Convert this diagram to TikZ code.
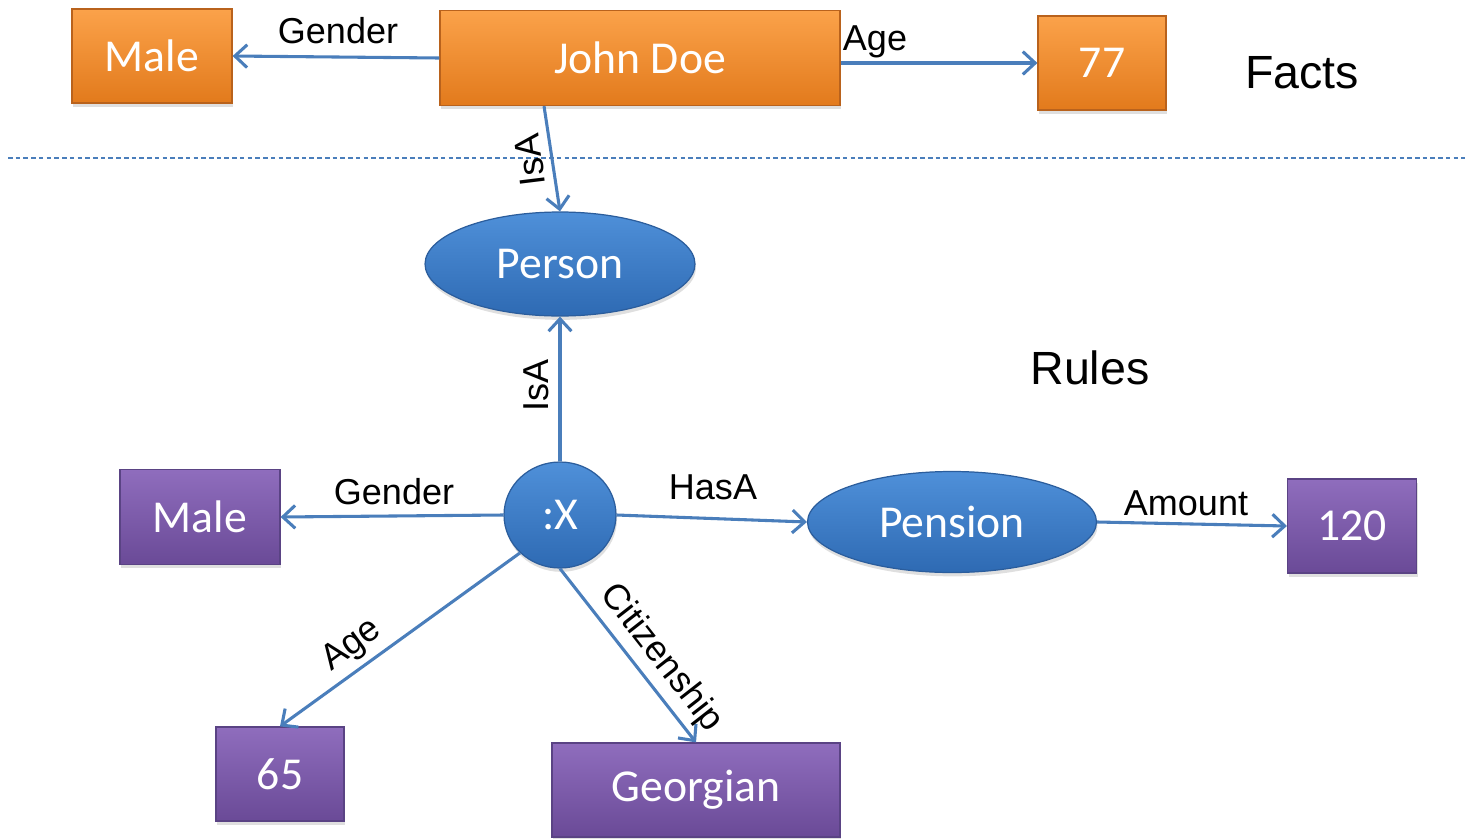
\documentclass[tikz,border=0pt]{standalone}
\usepackage{fontspec}
\setmainfont{Liberation Sans}
\newfontfamily\boxfont{Carlito}
\usetikzlibrary{arrows.meta,shadows,shapes.geometric}

\definecolor{orgtop}{HTML}{FBA24A}
\definecolor{orgbot}{HTML}{E27A1C}
\definecolor{orgedge}{HTML}{B9621C}
\definecolor{purtop}{HTML}{8F6DBD}
\definecolor{purbot}{HTML}{6A4A97}
\definecolor{puredge}{HTML}{5A4384}
\definecolor{blutop}{HTML}{4F90D9}
\definecolor{blubot}{HTML}{2E6AB3}
\definecolor{bluedge}{HTML}{2B5D9C}
\definecolor{linkcol}{HTML}{4A7EBB}

\tikzset{
  softshadow/.style={drop shadow={opacity=0.25, shadow xshift=0.6pt, shadow yshift=-2.2pt}},
  box/.style={rectangle, inner sep=0pt, text=white, softshadow,
    font=\boxfont\fontsize{26}{30}\selectfont, line width=0.7pt},
  factbox/.style={box, top color=orgtop, bottom color=orgbot, draw=orgedge},
  rulebox/.style={box, top color=purtop, bottom color=purbot, draw=puredge},
  concept/.style={ellipse, inner sep=0pt, text=white, softshadow,
    top color=blutop, bottom color=blubot, draw=bluedge, line width=0.7pt,
    font=\boxfont\fontsize{26}{30}\selectfont},
  link/.style={draw=linkcol, line width=1.75pt,
    -{Straight Barb[length=7pt, width=13pt, line width=1.75pt]}},
  lbl/.style={font=\fontsize{20.5}{24}\selectfont, inner sep=0pt},
  heading/.style={font=\fontsize{26.5}{30}\selectfont, inner sep=0pt},
}

\begin{document}
\begin{tikzpicture}[x=0.02cm, y=0.02cm]
  \useasboundingbox (0,0) rectangle (1465,-839);

  % facts
  \node[factbox, minimum width=3.2cm, minimum height=1.88cm] (male1) at (152,-56) {Male};
  \node[factbox, minimum width=8cm, minimum height=1.9cm] (jd) at (640,-58) {John Doe};
  \node[factbox, minimum width=2.56cm, minimum height=1.88cm] (v77) at (1102,-63) {77};
  \node[heading] (facts) at (1302,-73) {Facts};

  % separator
  \coordinate (sepL) at (8,-158);
  \coordinate (sepR) at (1465,-158);
  \draw[linkcol, line width=0.8pt, dash pattern=on 2.6pt off 1.8pt] (sepL) -- (sepR);

  % rules
  \node[concept, minimum width=5.4cm, minimum height=2.08cm] (person) at (560,-264) {Person};
  \node[heading] (rules) at (1090,-368) {Rules};
  \node[concept, minimum width=2.24cm, minimum height=2.12cm] (x) at (560,-515) {:X};
  \node[rulebox, minimum width=3.2cm, minimum height=1.9cm] (male2) at (200,-517) {Male};
  \node[concept, minimum width=5.78cm, minimum height=2.02cm] (pension) at (952,-522) {Pension};
  \node[rulebox, minimum width=2.58cm, minimum height=1.88cm] (v120) at (1352,-526) {120};
  \node[rulebox, minimum width=2.56cm, minimum height=1.88cm] (v65) at (280,-774) {65};
  \node[rulebox, minimum width=5.76cm, minimum height=1.88cm] (geo) at (696,-790) {Georgian};

  % fact links
  \draw[link] (jd.west) -- (male1.east);
  \draw[link] (jd.east |- v77.west) -- (v77.west);
  \draw[link] ([xshift=-1.92cm]jd.south) -- (person.north);
  \node[lbl] (lg1) at (338,-31) {Gender};
  \node[lbl] (la1) at (875,-42) {Age};
  \node[lbl, rotate=97] (li1) at (530,-160) {IsA};

  % rule links
  \draw[link] (x.north) -- (person.south);
  \draw[link] (x.west) -- (male2.east);
  \draw[link] (x.east) -- (pension.west);
  \draw[link] (pension.east) -- (v120.west);
  \draw[link] (x.south west) -- (v65.north);
  \draw[link] (x.south) -- (geo.north);
  \node[lbl, rotate=90] (li2) at (536,-385) {IsA};
  \node[lbl] (lg2) at (394,-492) {Gender};
  \node[lbl] (lh) at (713,-487) {HasA};
  \node[lbl] (lam) at (1186,-503) {Amount};
  \node[lbl, rotate=36] (la2) at (352,-646) {Age};
  \node[lbl, rotate=-52] (lc) at (661,-658) {Citizenship};
\end{tikzpicture}
\end{document}
